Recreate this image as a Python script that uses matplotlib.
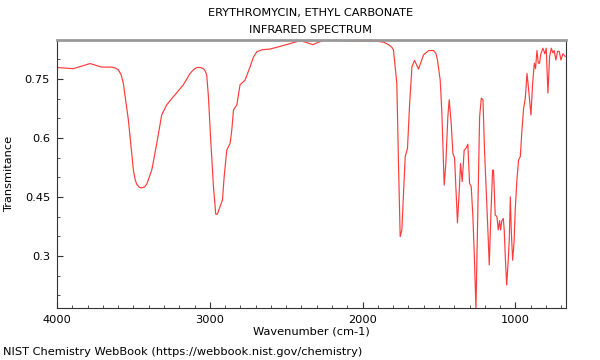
"""IR spectrum: erythromycin, ethyl carbonate (NIST style)."""
import matplotlib
matplotlib.use('Agg')
import matplotlib.pyplot as plt
from matplotlib.ticker import MultipleLocator

plt.rcParams.update({
    'font.size': 8.2,
    'font.family': 'DejaVu Sans',
})

# wavenumber (cm-1) and transmittance
wavenumber = [
    4000, 3893, 3784, 3707, 3642, 3615, 3598, 3580, 3566, 3533, 3500, 3488, 3478, 3460, 3445, 3428, 3413,
    3380, 3347, 3315, 3282, 3238, 3173, 3129, 3105, 3085, 3060, 3042, 3030, 3020, 3009, 2994,
    2976, 2961, 2950, 2933, 2917, 2906, 2889, 2867, 2856, 2845, 2823, 2802,
    2769, 2736, 2715, 2692, 2660, 2605, 2518, 2409, 2370, 2326, 2290, 2245, 2037, 1906, 1860, 1830, 1810, 1798,
    1776, 1765, 1754, 1743, 1732, 1721, 1706, 1693, 1677, 1660, 1634, 1601,
    1568, 1536, 1520, 1510, 1492, 1481, 1466, 1455, 1442, 1433, 1420, 1409, 1398,
    1389, 1379, 1367, 1359, 1348, 1335, 1322, 1311, 1300, 1289, 1278, 1267,
    1258, 1248, 1234, 1223, 1212, 1202, 1191, 1180, 1171, 1160, 1149, 1143,
    1132, 1121, 1112, 1103, 1097, 1088, 1079, 1073, 1066, 1057, 1048, 1040,
    1033, 1027, 1018, 1009, 1001, 990, 979, 968, 957, 946, 935, 924,
    911, 898, 887, 876, 868, 859, 850, 842, 833, 820, 807, 798,
    787, 776, 765, 754, 746, 735, 724, 713, 702, 689, 674,
]
transmittance = [
    0.779, 0.776, 0.789, 0.780, 0.780, 0.777, 0.773, 0.760, 0.739, 0.646, 0.518, 0.493, 0.482, 0.474, 0.473, 0.475, 0.482,
    0.518, 0.586, 0.658, 0.684, 0.705, 0.735, 0.764, 0.774, 0.779, 0.779, 0.776, 0.770, 0.760, 0.705, 0.595,
    0.476, 0.406, 0.406, 0.425, 0.442, 0.501, 0.569, 0.586, 0.620, 0.671, 0.684, 0.735,
    0.747, 0.781, 0.805, 0.819, 0.824, 0.826, 0.835, 0.847, 0.843, 0.837, 0.843, 0.849, 0.846, 0.846, 0.843, 0.837, 0.831, 0.824,
    0.739, 0.535, 0.349, 0.366, 0.459, 0.552, 0.574, 0.680, 0.781, 0.797, 0.775, 0.811,
    0.822, 0.822, 0.815, 0.798, 0.747, 0.663, 0.480, 0.535, 0.654, 0.697, 0.637, 0.561, 0.549,
    0.468, 0.384, 0.468, 0.535, 0.489, 0.569, 0.574, 0.584, 0.485, 0.476, 0.400, 0.281,
    0.165, 0.366, 0.654, 0.701, 0.697, 0.569, 0.468, 0.366, 0.277, 0.408, 0.518, 0.518,
    0.404, 0.400, 0.366, 0.390, 0.366, 0.390, 0.395, 0.366, 0.298, 0.226, 0.281, 0.340,
    0.450, 0.366, 0.289, 0.332, 0.417, 0.493, 0.544, 0.552, 0.620, 0.675, 0.701, 0.764,
    0.714, 0.658, 0.739, 0.790, 0.776, 0.822, 0.790, 0.790, 0.814, 0.828, 0.814, 0.828,
    0.714, 0.807, 0.828, 0.816, 0.822, 0.798, 0.820, 0.820, 0.798, 0.814, 0.807,
]

fig = plt.figure(figsize=(6.0, 3.6), dpi=100)
ax = fig.add_axes([0.095, 0.145, 0.848, 0.744])

ax.plot(wavenumber, transmittance, color='#ff3b3b', lw=0.85)

ax.set_xlim(4000, 670)
ax.set_ylim(0.168, 0.849)
ax.xaxis.set_major_locator(MultipleLocator(1000))
ax.xaxis.set_minor_locator(MultipleLocator(100))
ax.yaxis.set_minor_locator(MultipleLocator(0.05))
ax.set_yticks([0.3, 0.45, 0.6, 0.75])
ax.set_yticklabels(['0.3', '0.45', '0.6', '0.75'])

ax.tick_params(which='both', direction='in', color='#333333', pad=5)
ax.tick_params(which='major', length=4)
ax.tick_params(which='minor', length=2.5)
for side in ['left', 'bottom', 'right']:
    ax.spines[side].set_color('#333333')
    ax.spines[side].set_linewidth(0.8)
ax.spines['top'].set_color('#999999')
ax.spines['top'].set_linewidth(2.0)

ax.set_xlabel('Wavenumber (cm-1)', labelpad=1)
ax.set_ylabel('Transmitance', labelpad=8)

fig.text(0.518, 0.963, 'ERYTHROMYCIN, ETHYL CARBONATE', ha='center', va='center')
fig.text(0.518, 0.917, 'INFRARED SPECTRUM', ha='center', va='center')
fig.text(0.005, 0.022, 'NIST Chemistry WebBook (https://webbook.nist.gov/chemistry)',
         ha='left', va='center')

fig.savefig('out.png', dpi=100)
plt.close(fig)
